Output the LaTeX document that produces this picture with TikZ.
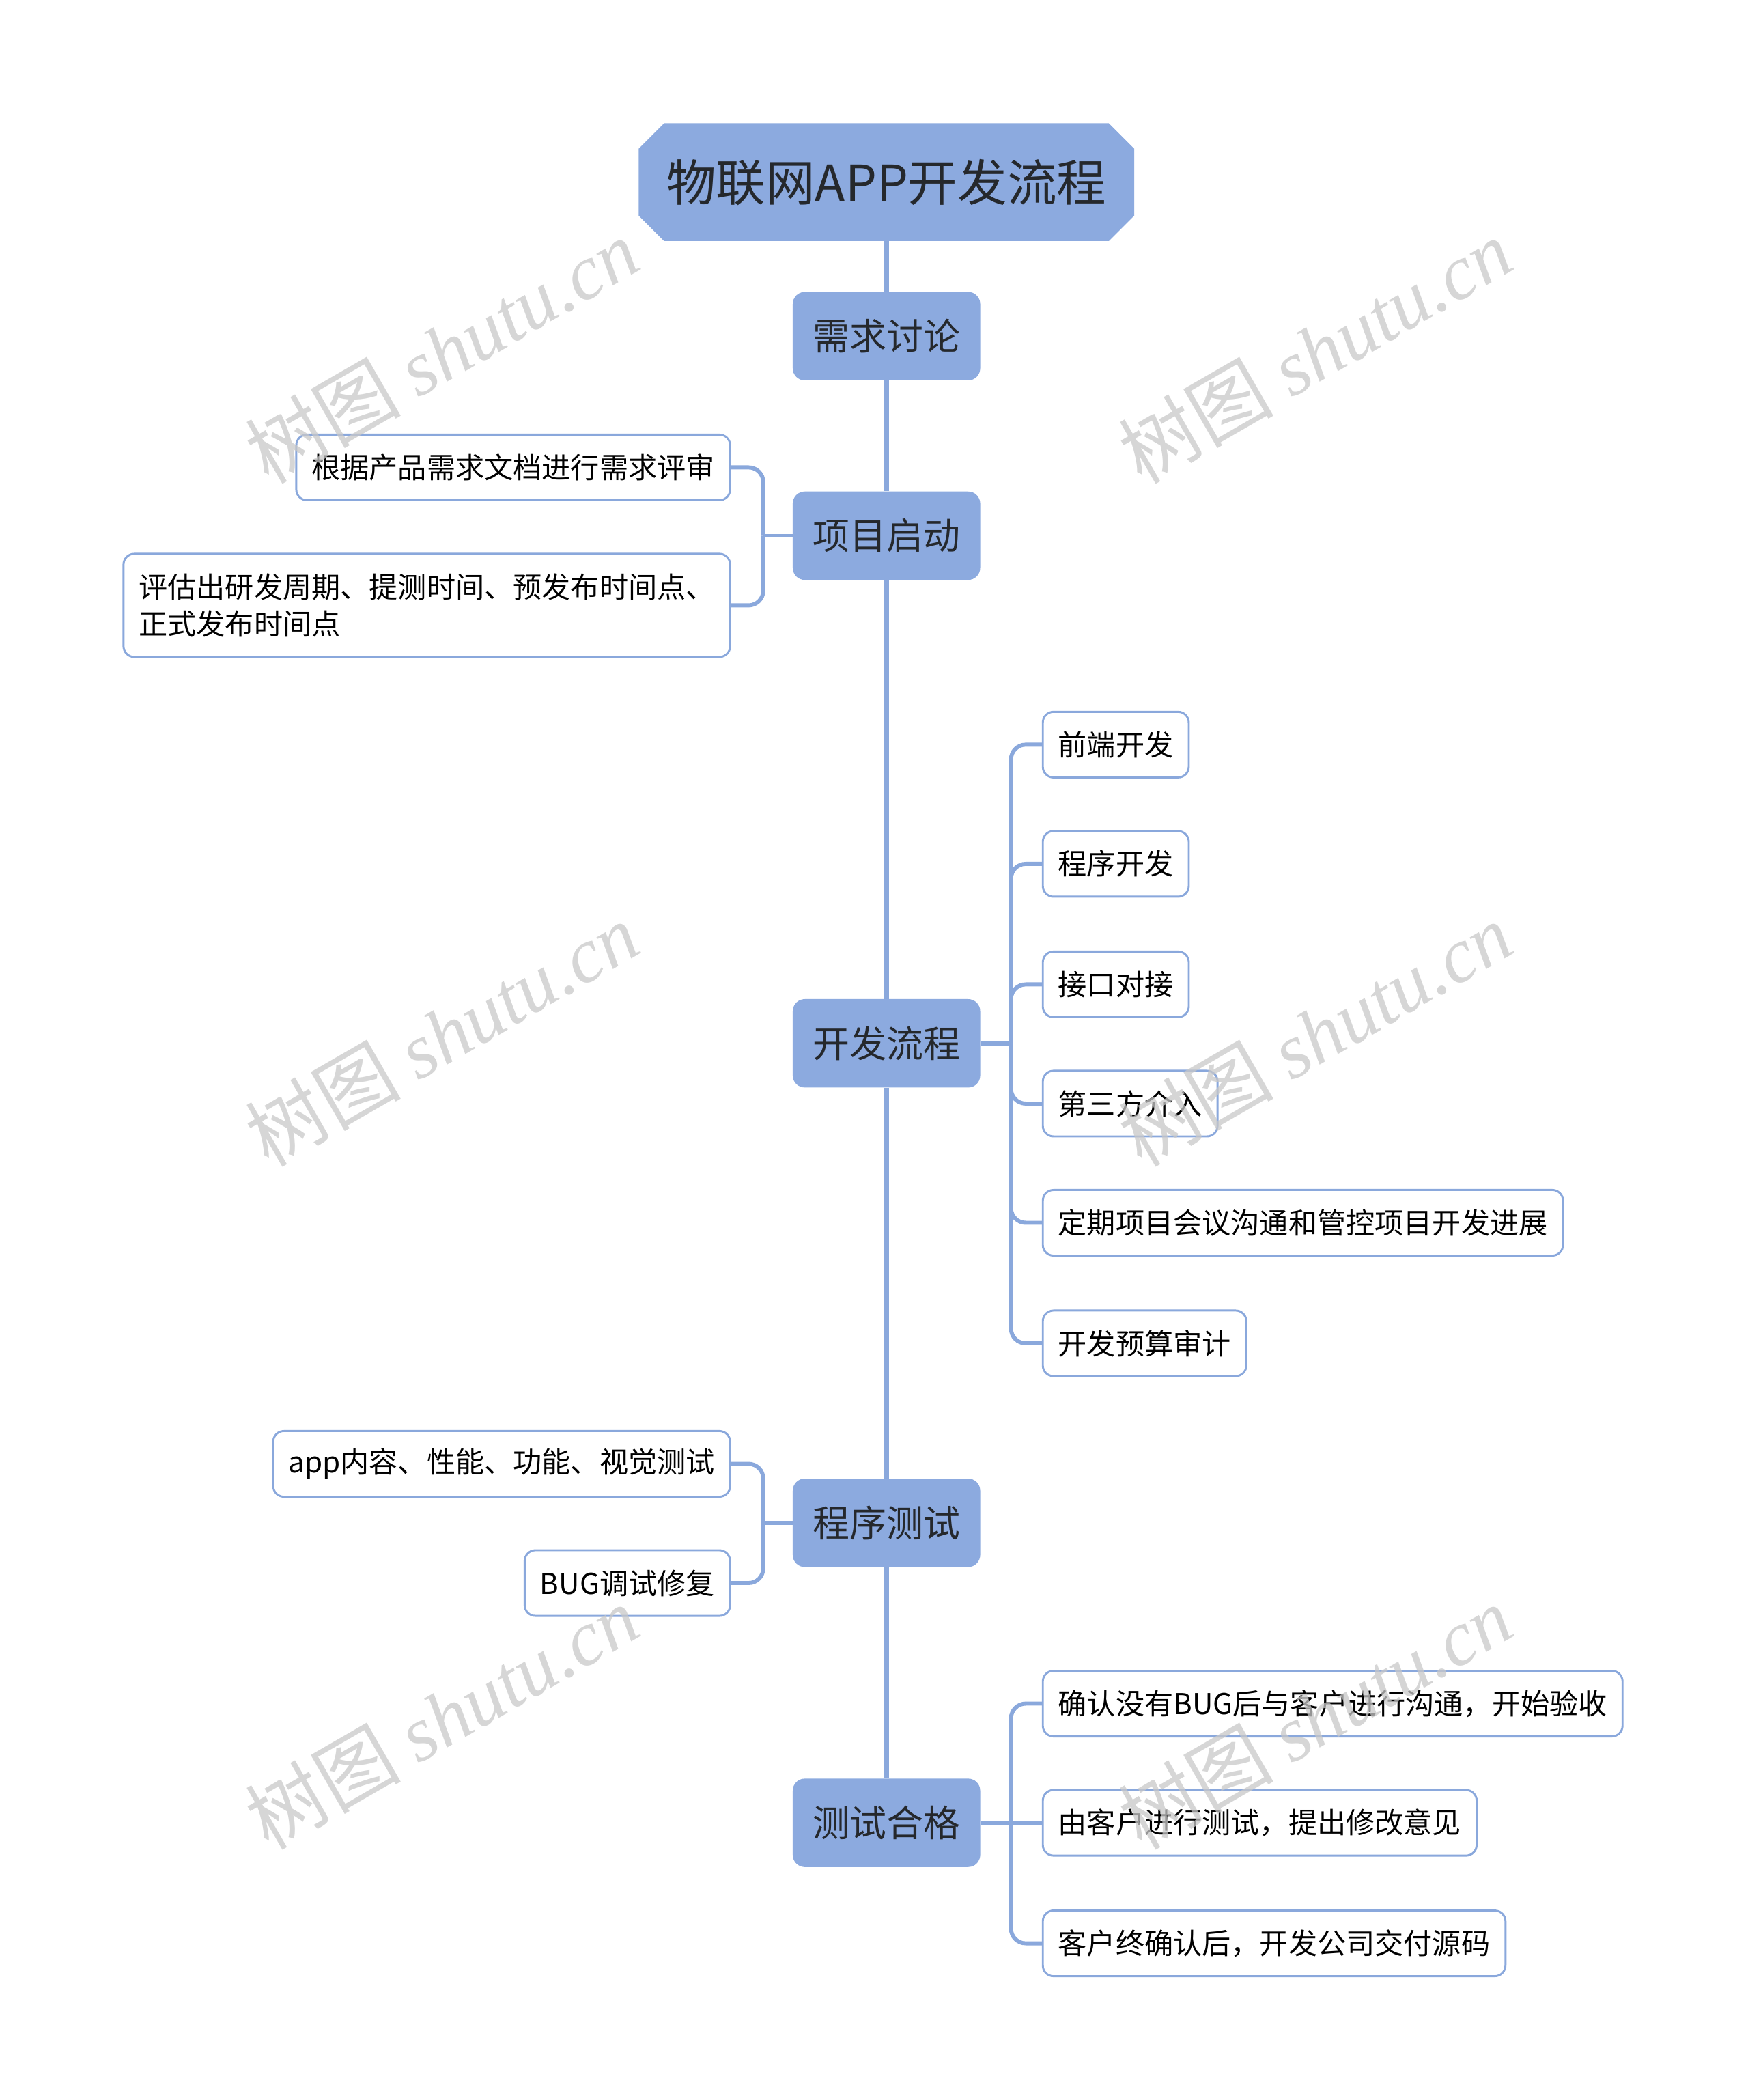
\documentclass[tikz,border=0pt]{standalone}
\usepackage{fontspec}
\setmainfont{Noto Sans CJK SC}
\newfontfamily\wmlatin{Liberation Serif}
\usetikzlibrary{shapes.misc}
\definecolor{mainfill}{HTML}{8CAADF}
\definecolor{lineclr}{HTML}{8AA8DC}
\definecolor{darktext}{HTML}{25282C}
\definecolor{wmclr}{HTML}{C8C8C8}
\tikzset{
  x=1pt, y=-1pt,
  mainbox/.style={fill=mainfill, draw=none, rounded corners=9pt, minimum width=140pt, minimum height=66pt, inner sep=0pt, text=darktext, font=\fontsize{27.5pt}{33pt}\selectfont},
  rootbox/.style={chamfered rectangle, chamfered rectangle xsep=8pt, chamfered rectangle ysep=11pt, fill=mainfill, draw=none, minimum width=370pt, minimum height=88pt, inner sep=0pt, text=darktext, font=\fontsize{37pt}{44pt}\selectfont},
  leaf/.style={draw=lineclr, line width=1.5pt, fill=white, rounded corners=8pt, minimum height=49pt, inner xsep=11.5pt, inner ysep=0pt, text=black, font=\fontsize{21.5pt}{28pt}\selectfont},
  trunk/.style={draw=lineclr, line width=3.5pt},
  conn/.style={draw=lineclr, line width=3pt, rounded corners=11pt},
  wm/.style={text=wmclr, opacity=0.75, rotate=30, font=\fontsize{58pt}{60pt}\selectfont, inner sep=0pt}
}
\begin{document}
\begin{tikzpicture}
\useasboundingbox (0,0) rectangle (1305,1568);
% main nodes
\node[rootbox] (root) at (662,136) {物联网APP开发流程};
\node[mainbox] (m1) at (662,251) {需求讨论};
\node[mainbox] (m2) at (662,400) {项目启动};
\node[mainbox] (m3) at (662,779) {开发流程};
\node[mainbox] (m4) at (662,1137) {程序测试};
\node[mainbox] (m5) at (662,1361) {测试合格};
% trunk
\draw[trunk] (root.south) -- (m1.north);
\draw[trunk] (m1.south) -- (m2.north);
\draw[trunk] (m2.south) -- (m3.north);
\draw[trunk] (m3.south) -- (m4.north);
\draw[trunk] (m4.south) -- (m5.north);
% leaves of m2
\node[leaf, anchor=east] (a1) at (546,349) {根据产品需求文档进行需求评审};
\node[leaf, anchor=east, minimum height=77pt, align=left] (a2) at (546,452) {评估出研发周期、提测时间、预发布时间点、\\正式发布时间点};
\coordinate (ba) at (570,400);
\draw[conn] (m2.west) -- (ba);
\draw[conn] (ba) |- (a1.east);
\draw[conn] (ba) |- (a2.east);
% leaves of m3
\node[leaf, anchor=west] (b1) at (778,556) {前端开发};
\node[leaf, anchor=west] (b2) at (778,645) {程序开发};
\node[leaf, anchor=west] (b3) at (778,735) {接口对接};
\node[leaf, anchor=west] (b4) at (778,824) {第三方介入};
\node[leaf, anchor=west] (b5) at (778,913) {定期项目会议沟通和管控项目开发进展};
\node[leaf, anchor=west] (b6) at (778,1003) {开发预算审计};
\coordinate (bb) at (755,779);
\draw[conn] (m3.east) -- (bb);
\foreach \n in {b1,b2,b3,b4,b5,b6} {\draw[conn] (bb) |- (\n.west);}
% leaves of m4
\node[leaf, anchor=east] (c1) at (546,1093) {app内容、性能、功能、视觉测试};
\node[leaf, anchor=east] (c2) at (546,1182) {BUG调试修复};
\coordinate (bc) at (570,1137);
\draw[conn] (m4.west) -- (bc);
\draw[conn] (bc) |- (c1.east);
\draw[conn] (bc) |- (c2.east);
% leaves of m5
\node[leaf, anchor=west] (d1) at (778,1272) {确认没有BUG后与客户进行沟通，开始验收};
\node[leaf, anchor=west] (d2) at (778,1361) {由客户进行测试，提出修改意见};
\node[leaf, anchor=west] (d3) at (778,1451) {客户终确认后，开发公司交付源码};
\coordinate (bd) at (755,1361);
\draw[conn] (m5.east) -- (bd);
\draw[conn] (bd) |- (d1.west);
\draw[conn] (bd) -- (d2.west);
\draw[conn] (bd) |- (d3.west);
% watermarks
\foreach \p/\nm in {{(330,262)}/w1,{(982,262)}/w2,{(330,772)}/w3,{(982,772)}/w4,{(330,1282)}/w5,{(982,1282)}/w6}{
  \node[wm] (\nm) at \p {\itshape 树图 {\wmlatin\itshape shutu.cn}};
}
\end{tikzpicture}
\end{document}
